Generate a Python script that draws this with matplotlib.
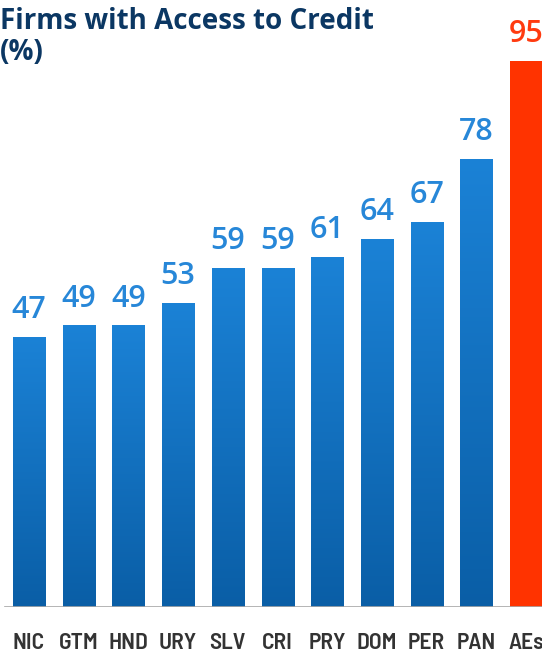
import numpy as np
import matplotlib
matplotlib.use("Agg")
import matplotlib.pyplot as plt
from matplotlib.colors import LinearSegmentedColormap

# data
countries = ["NIC", "GTM", "HND", "URY", "SLV", "CRI", "PRY", "DOM", "PER", "PAN", "AEs"]
values = [47, 49, 49, 53, 59, 59, 61, 64, 67, 78, 95]
highlight = "AEs"

BLUE_TOP = "#1b82d6"
BLUE_BOT = "#0a5ea6"
RED = "#ff3300"
LABEL_BLUE = "#2787d8"
LABEL_RED = "#ff3b10"
NAVY = "#0b3763"

COND = ["Barlow Semi Condensed", "Open Sans", "DejaVu Sans"]
plt.rcParams["font.family"] = ["Open Sans", "DejaVu Sans"]

fig = plt.figure(figsize=(5.42, 6.54), dpi=100)
ax = fig.add_axes([0, 47 / 654, 1, 574.5 / 654])

x = np.arange(len(countries))
colors = [RED if c == highlight else BLUE_BOT for c in countries]
bars = ax.bar(x, values, width=0.645, color=colors, zorder=2)

# vertical gradient for the blue bars
cmap = LinearSegmentedColormap.from_list("bluegrad", [BLUE_BOT, BLUE_TOP])
grad = np.linspace(0, 1, 256).reshape(-1, 1)
for b, c in zip(bars, countries):
    if c == highlight:
        continue
    x0, w, h = b.get_x(), b.get_width(), b.get_height()
    im = ax.imshow(grad, cmap=cmap, origin="lower", aspect="auto",
                   extent=[x0, x0 + w, 0, h], zorder=3)
    im.set_clip_path(b)

for xi, v, c in zip(x, values, countries):
    col = LABEL_RED if c == highlight else LABEL_BLUE
    ax.text(xi, v + 3.3, str(v), ha="center", va="baseline", fontsize=22,
            color=col, fontweight="semibold")

ax.set_xlim(-0.583, 10.32)
ax.set_ylim(0, 100)
ax.axhline(0, xmin=0.01, xmax=1, color="#a8a8a8", lw=1.2, zorder=4)

ax.set_xticks(x)
ax.set_xticklabels(countries, fontsize=17, fontweight=600, color="#333333", family=COND)
for lbl in ax.get_xticklabels():
    lbl.set_verticalalignment("baseline")
ax.tick_params(axis="x", length=0, pad=30.5)
ax.set_yticks([])
for s in ax.spines.values():
    s.set_visible(False)

fig.text(0.0, 1 - 7 / 654, "Firms with Access to Credit\n(%)", ha="left", va="top",
         fontsize=20, fontweight="bold", color=NAVY, linespacing=1.08)

fig.savefig("out.png", dpi=100, facecolor="white")
